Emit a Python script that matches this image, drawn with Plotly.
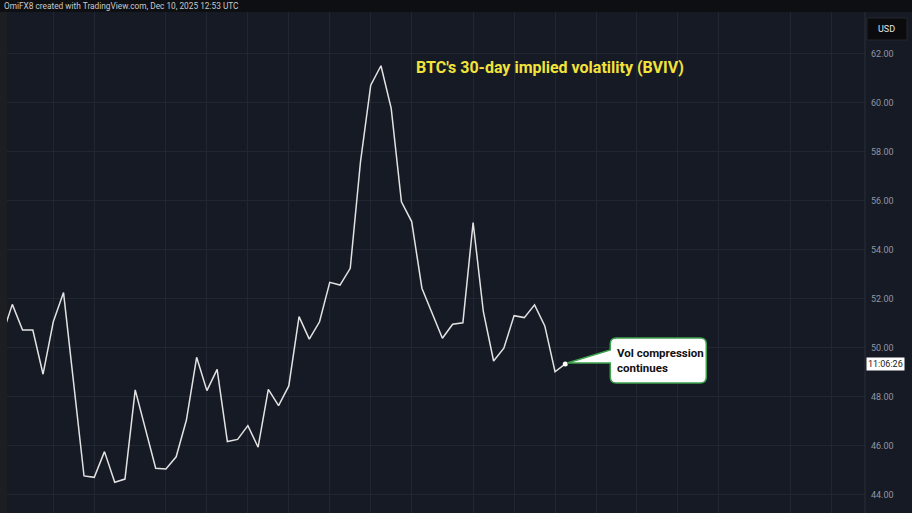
import plotly.graph_objects as go
import pandas as pd

# ---- data ----
start_date = "2025-10-16"
n_days = 56
bviv = [50.5, 51.78, 50.73, 50.73, 48.93, 51.07, 52.26, 48.5, 44.78, 44.72,
        45.77, 44.52, 44.65, 48.29, 46.7, 45.09, 45.06, 45.56, 47.06, 49.62,
        48.26, 49.13, 46.18, 46.27, 46.83, 45.95, 48.31, 47.65, 48.45, 51.28,
        50.36, 51.07, 52.68, 52.57, 53.25, 57.6, 60.73, 61.52, 59.78, 55.97,
        55.16, 52.44, 51.42, 50.4, 50.97, 51.03, 55.12, 51.48, 49.47, 49.99,
        51.32, 51.24, 51.76, 50.9, 49.03, 49.35]
grid_dates = ["2025-10-21", "2025-10-25", "2025-11-01", "2025-11-05", "2025-11-09",
              "2025-11-13", "2025-11-17", "2025-11-21", "2025-11-25", "2025-12-01",
              "2025-12-05", "2025-12-09", "2025-12-13", "2025-12-17", "2025-12-21",
              "2025-12-25", "2026-01-01", "2026-01-05"]
y_ticks = [44, 46, 48, 50, 52, 54, 56, 58, 60, 62]
x_range = ["2025-10-16 11:30", "2026-01-08 06:29"]
y_range = [43.265, 63.714]

title_text = "BTC's 30-day implied volatility (BVIV)"
header_text = "OmiFX8 created with TradingView.com, Dec 10, 2025 12:53 UTC"
callout_text = "Vol compression<br>continues"
countdown_text = "11:06:26"

dates = pd.date_range(start_date, periods=n_days, freq="D")

BG = "#161a25"
GRID = "#222632"
FONT = "Roboto, Arial, sans-serif"

fig = go.Figure()
fig.add_trace(go.Scatter(x=dates, y=bviv, mode="lines",
                         line=dict(color="#e2e2e2", width=1.5),
                         hoverinfo="skip", showlegend=False))
fig.add_trace(go.Scatter(x=[dates[-1]], y=[bviv[-1]], mode="markers",
                         marker=dict(color="#ffffff", size=5),
                         hoverinfo="skip", showlegend=False))

W, H = 912, 513
ml, mr, mt, mb = 7, 47, 12, 0
pw, ph = W - ml - mr, H - mt - mb

fig.update_layout(
    width=W, height=H,
    margin=dict(l=ml, r=mr, t=mt, b=mb),
    paper_bgcolor=BG, plot_bgcolor=BG,
    font=dict(family=FONT),
    showlegend=False,
    xaxis=dict(type="date", range=x_range, tickvals=grid_dates,
               showticklabels=False, showgrid=True, gridcolor=GRID, gridwidth=1,
               zeroline=False, showline=False, ticks=""),
    yaxis=dict(side="right", range=y_range, tickvals=y_ticks, tickformat=".2f",
               showgrid=True, gridcolor=GRID, gridwidth=1, zeroline=False,
               showline=False, ticks="", ticklabelstandoff=5,
               tickfont=dict(size=9, color="#9296a1", family=FONT)),
)

shapes = []
# header band
shapes.append(dict(type="rect", xref="paper", yref="paper",
                   x0=-ml / pw, x1=1 + mr / pw, y0=1, y1=1 + mt / ph,
                   fillcolor="#0e0f13", line=dict(width=0), layer="above"))
# left strip
shapes.append(dict(type="rect", xref="paper", yref="paper",
                   x0=-ml / pw, x1=0, y0=0, y1=1,
                   fillcolor="#1d1e21", line=dict(width=0)))
# axis border
shapes.append(dict(type="line", xref="paper", yref="paper",
                   x0=1, x1=1, y0=0, y1=1, line=dict(color="#2a2e39", width=1)))
# USD box
shapes.append(dict(type="rect", xref="paper", yref="paper",
                   x0=1 + 2 / pw, x1=1 + 42 / pw,
                   y0=(H - 40) / ph, y1=(H - 18) / ph,
                   fillcolor="#0b0b0d", line=dict(color="#25272c", width=1)))
# callout (box + wedge pointing to the last point)
callout_path = ("M 2,1 L 45,14 L 45,20 Q 45,26 51,26 L 135,26 Q 141,26 141,20 "
                "L 141,-13 Q 141,-19 135,-19 L 51,-19 Q 45,-19 45,-13 L 45,1 Z")
shapes.append(dict(type="path", xref="x", yref="y",
                   xsizemode="pixel", ysizemode="pixel",
                   xanchor=dates[-1], yanchor=bviv[-1],
                   path=callout_path, fillcolor="#ffffff",
                   line=dict(color="#3fa34d", width=1.5), layer="above"))
fig.update_layout(shapes=shapes)

annotations = [
    dict(text="<b>" + title_text + "</b>", xref="paper", yref="paper",
         x=(549.5 - ml) / pw, y=(H - 68) / ph, xanchor="center", yanchor="middle",
         showarrow=False, font=dict(size=16, color="#f2e33a", family=FONT)),
    dict(text=header_text, xref="paper", yref="paper",
         x=(2 - ml) / pw, y=(H - 6) / ph, xanchor="left", yanchor="middle",
         showarrow=False, font=dict(size=8.3, color="#c9c9c9", family=FONT)),
    dict(text="USD", xref="paper", yref="paper",
         x=1 + 22 / pw, y=(H - 29) / ph, xanchor="center", yanchor="middle",
         showarrow=False, font=dict(size=9, color="#e6e6e6", family=FONT)),
    dict(text=countdown_text, xref="paper", yref="y",
         x=1, y=bviv[-1], xanchor="left", yanchor="middle", xshift=1,
         showarrow=False, bgcolor="#ffffff", borderpad=1,
         font=dict(size=9, color="#1a1a1a", family=FONT)),
    dict(text="<b>" + callout_text + "</b>", xref="x", yref="y",
         x=dates[-1], y=bviv[-1], xanchor="left", yanchor="middle",
         xshift=50, yshift=3, align="left", showarrow=False,
         font=dict(size=11.5, color="#111111", family=FONT)),
]
fig.update_layout(annotations=annotations)

fig.write_html("out.html",
               config={"displayModeBar": False},
               post_script="document.body.style.margin='0';"
                           "document.body.style.overflow='hidden';")
